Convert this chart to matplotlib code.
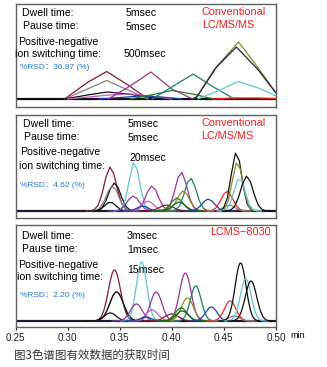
import numpy as np
import matplotlib
matplotlib.use("Agg")
import matplotlib.pyplot as plt

W, H = 327, 367

# ---------------- data ----------------
# Panel 1: sparse sampled polylines (time [min], height)
p1_series = [
    ("#8b1a2b", [0.297, 0.319, 0.3375, 0.358, 0.377], [0, 16.5, 27.5, 14, 0]),
    ("#808080", [0.297, 0.319, 0.3375, 0.358, 0.377], [0, 10, 18.5, 9, 0]),
    ("#101010", [0.297, 0.319, 0.338, 0.358, 0.377, 0.396], [0, 4, 7, 5, 2, 0]),
    ("#c060c0", [0.30, 0.32, 0.34, 0.36, 0.38, 0.40], [0, 2, 4, 5, 3, 0]),
    ("#2040b0", [0.33, 0.35, 0.37, 0.39, 0.41], [0, 1.5, 3, 2, 0]),
    ("#a0309a", [0.339, 0.36, 0.380, 0.40, 0.42], [0, 13, 27, 10, 0]),
    ("#208020", [0.36, 0.38, 0.40, 0.42, 0.44], [0, 4, 8.5, 5, 0]),
    ("#1a7f6e", [0.381, 0.40, 0.4205, 0.44, 0.46], [0, 12, 25, 12, 0]),
    ("#8a8a20", [0.420, 0.424, 0.441, 0.464, 0.483, 0.50], [0, 2, 30, 57, 31, 6]),
    ("#202050", [0.420, 0.424, 0.443, 0.462, 0.483, 0.50], [0, 2, 32, 52, 29, 6]),
    ("#5bc8d8", [0.425, 0.444, 0.464, 0.483, 0.50], [0, 8, 17.5, 11, 3]),
    ("#ff2020", [0.44, 0.46, 0.48, 0.50], [0, 1, 1, 0.5]),
]

# Panels 2 & 3: peaks (colour, centre [min], height, width sigma [min])
p2_peaks = [
    ("#8b1a2b", 0.341, 44, 0.0058), ("#101010", 0.345, 28, 0.0058),
    ("#808080", 0.343, 25, 0.0058), ("#101010", 0.341, 9, 0.0052),
    ("#5bc8d8", 0.364, 49, 0.0050), ("#8040a0", 0.363, 15, 0.0058),
    ("#a0309a", 0.381, 25, 0.0058), ("#c060c0", 0.377, 10, 0.0058),
    ("#2040b0", 0.372, 5, 0.0052), ("#8b1a2b", 0.395, 6, 0.0065),
    ("#a0309a", 0.409, 39, 0.0055), ("#1a7f6e", 0.418, 33, 0.0055),
    ("#8a8a20", 0.411, 20, 0.0058), ("#208020", 0.405, 13, 0.0058),
    ("#106010", 0.407, 9, 0.0058), ("#2040b0", 0.435, 12, 0.0058),
    ("#ff2020", 0.453, 20, 0.0055), ("#808080", 0.455, 6, 0.0052),
    ("#101010", 0.462, 59, 0.0050), ("#8a8a20", 0.463, 49, 0.0050),
    ("#5bc8d8", 0.465, 33, 0.0052), ("#101010", 0.472, 35, 0.0058),
]
p3_peaks = [
    ("#8b1a2b", 0.345, 51, 0.0058), ("#808080", 0.347, 29, 0.0065),
    ("#101010", 0.347, 29, 0.0065), ("#101010", 0.341, 8, 0.0058),
    ("#5bc8d8", 0.371, 59, 0.0050), ("#8040a0", 0.366, 17, 0.0058),
    ("#a0309a", 0.385, 29, 0.0055), ("#c060c0", 0.381, 11, 0.0058),
    ("#2040b0", 0.375, 4, 0.0052), ("#8b1a2b", 0.400, 7, 0.0065),
    ("#a0309a", 0.413, 48, 0.0055), ("#1a7f6e", 0.423, 35, 0.0052),
    ("#8a8a20", 0.415, 23, 0.0058), ("#208020", 0.409, 13, 0.0058),
    ("#106010", 0.410, 10, 0.0058), ("#2040b0", 0.438, 14, 0.0055),
    ("#ff2020", 0.456, 20, 0.0055), ("#808080", 0.460, 5, 0.0052),
    ("#101010", 0.466, 58, 0.0052), ("#5bc8d8", 0.471, 42, 0.0052),
    ("#101010", 0.476, 40, 0.0055),
]

labels = [
    ("Dwell time:", "5msec", "Pause time:", "5msec", "500msec", "%RSD：36.87 (%)",
     ["Conventional", "LC/MS/MS"]),
    ("Dwell time:", "5msec", "Pause time:", "5msec", "20msec", "%RSD：4.62 (%)",
     ["Conventional", "LC/MS/MS"]),
    ("Dwell time:", "3msec", "Pause time:", "1msec", "15msec", "%RSD：2.20 (%)",
     ["LCMS−8030"]),
]
xticks = [0.25, 0.30, 0.35, 0.40, 0.45, 0.50]
xticklabels = ["0.25", "0.30", "0.35", "0.40", "0.45", "0.50"]
caption = "图3色谱图有效数据的获取时间"

# ---------------- drawing ----------------
fig = plt.figure(figsize=(W / 100, H / 100), dpi=100)
FONT = ["Liberation Sans", "Noto Sans CJK SC", "DejaVu Sans"]


def add_ax(left, right, top, bottom):
    return fig.add_axes([left / W, 1 - bottom / H, (right - left) / W, (bottom - top) / H])


def ftext(x, y, s, **kw):
    kw.setdefault("family", FONT)
    kw.setdefault("va", "center")
    fig.text(x / W, 1 - y / H, s, **kw)


boxes = [(15.5, 276, 4, 107, -8, 95), (15.5, 276, 115, 218, -7, 96), (15.5, 276, 225, 327, -6, 96)]
axes = []
for (l, r, t, b, y0, y1) in boxes:
    ax = add_ax(l, r, t, b)
    ax.set_xlim(0.25, 0.50)
    ax.set_ylim(y0, y1)
    for sp in ax.spines.values():
        sp.set_color("#606060")
        sp.set_linewidth(1.0)
    ax.set_yticks([])
    axes.append(ax)

# panel 1
ax = axes[0]
ax.axhline(0, color="#101010", lw=1.6, zorder=1)
for c, xs, ys in p1_series:
    ax.plot(xs, ys, color=c, lw=0.9, zorder=2)

# panels 2, 3
for ax, peaks, step in ((axes[1], p2_peaks, 0.0038), (axes[2], p3_peaks, 0.0005)):
    ax.axhline(0, color="#201830", lw=1.6, zorder=1)
    for c, mu, h, s in peaks:
        t = np.arange(mu - 4 * s, mu + 4 * s + step, step)
        ax.plot(t, h * np.exp(-0.5 * ((t - mu) / s) ** 2), color=c, lw=0.9, zorder=2)

for ax in axes[:2]:
    ax.set_xticks([])
ax = axes[2]
ax.set_xticks(xticks)
ax.set_xticklabels(xticklabels, family=FONT, fontsize=7.2)
ax.tick_params(axis="x", direction="out", length=2.5, width=0.8, pad=1.5, colors="#202020")

# texts
layout = [
    dict(dw=(22, 13), dwv=(126, 13), pa=(23, 26), pav=(126, 27), pn=(18, 42), isw=(15, 54),
         sw=(124, 54), rsd=(20, 67), brand=(202, [12, 25])),
    dict(dw=(23, 124), dwv=(128, 124), pa=(24, 137), pav=(128, 138), pn=(20, 152), isw=(19, 166),
         sw=(129, 158), rsd=(20, 185), brand=(201, [123, 136])),
    dict(dw=(22, 236), dwv=(127, 236), pa=(22, 249), pav=(127, 250), pn=(18, 265), isw=(17, 277),
         sw=(127, 270), rsd=(20, 295), brand=(210, [232])),
]
fs = 7.6
for (dw, dwv, pa, pav, swv, rsd, brand), L in zip(labels, layout):
    ftext(*L["dw"], dw, fontsize=fs)
    ftext(*L["dwv"], dwv, fontsize=fs)
    ftext(*L["pa"], pa, fontsize=fs)
    ftext(*L["pav"], pav, fontsize=fs)
    ftext(*L["pn"], "Positive-negative", fontsize=fs)
    ftext(*L["isw"], "ion switching time:", fontsize=fs)
    ftext(*L["sw"], swv, fontsize=fs)
    ftext(*L["rsd"], rsd, fontsize=6.0, color="#2a78d4")
    bx, bys = L["brand"]
    for s, by in zip(brand, bys):
        ftext(bx, by, s, fontsize=7.8, color="#ff1a1a")

ftext(290, 336, "min", fontsize=6.5)
ftext(14, 355, caption, fontsize=8.3, color="#333333",
      family=["Noto Sans CJK SC", "DejaVu Sans"])

fig.savefig("out.png", dpi=100)
